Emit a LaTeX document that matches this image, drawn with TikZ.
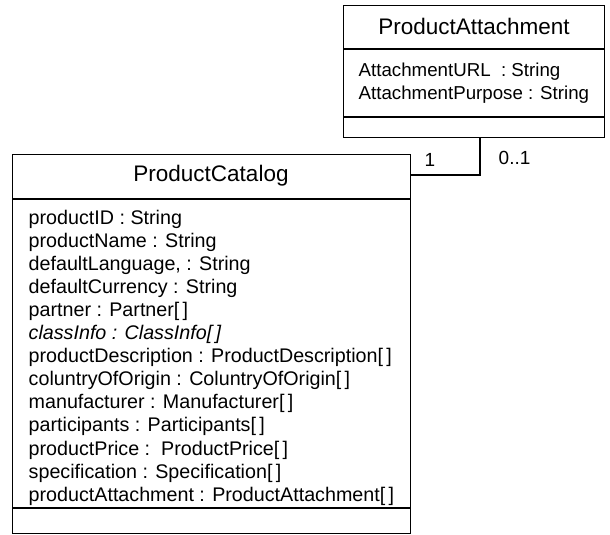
\documentclass[tikz,border=0pt]{standalone}
\usepackage{fontspec}
\setmainfont{Liberation Sans}
\begin{document}
\begin{tikzpicture}[x=1pt, y=-1pt, line width=1.4pt,
  classbox/.style={draw, inner sep=0pt, anchor=north west},
  classtitle/.style={inner sep=0pt, anchor=base, font=\fontsize{22.5}{26}\selectfont},
  attr/.style={inner sep=0pt, anchor=base west, font=\fontsize{19.7}{23}\selectfont},
  attrsmall/.style={inner sep=0pt, anchor=base west, font=\fontsize{18.7}{21}\selectfont},
  mult/.style={inner sep=0pt, anchor=base west, font=\fontsize{19}{21}\selectfont}]
\useasboundingbox (0,0) rectangle (610,535);

% ProductAttachment class
\node[classbox, minimum width=261pt, minimum height=132pt] (pa) at (343,5) {};
\draw (pa.west |- 0,49) -- (pa.east |- 0,49);
\draw (pa.west |- 0,117) -- (pa.east |- 0,117);
\node[classtitle] (pa-name) at (474,35) {ProductAttachment};
\node[attrsmall] (pa-a1) at (358,77) {AttachmentURL\ \ : String};
\node[attrsmall] (pa-a2) at (358,99) {AttachmentPurpose : String};

% ProductCatalog class
\node[classbox, minimum width=398pt, minimum height=379pt] (pc) at (12,154) {};
\draw (pc.west |- 0,199) -- (pc.east |- 0,199);
\draw (pc.west |- 0,508) -- (pc.east |- 0,508);
\node[classtitle] (pc-name) at (211,181) {ProductCatalog};
\foreach \t [count=\i from 0] in {
  {productID : String},
  {productName : String},
  {defaultLanguage, : String},
  {defaultCurrency : String},
  {partner : Partner[\,]},
  {\itshape classInfo : ClassInfo[\,]},
  {productDescription : ProductDescription[\,]},
  {coluntryOfOrigin : ColuntryOfOrigin[\,]},
  {manufacturer : Manufacturer[\,]},
  {participants : Participants[\,]},
  {productPrice :\ \ ProductPrice[\,]},
  {specification : Specification[\,]},
  {productAttachment : ProductAttachment[\,]}}
  \node[attr] (pc-a\i) at (28,{224+23.1*\i}) {\t};

% association between the two classes
\coordinate (joint) at (480,175);
\draw (pc.east |- joint) -- (joint) -- (pa.south -| joint);
\node[mult] (m-pc) at (424,166) {1};
\node[mult] (m-pa) at (498,164) {0..1};
\end{tikzpicture}
\end{document}
